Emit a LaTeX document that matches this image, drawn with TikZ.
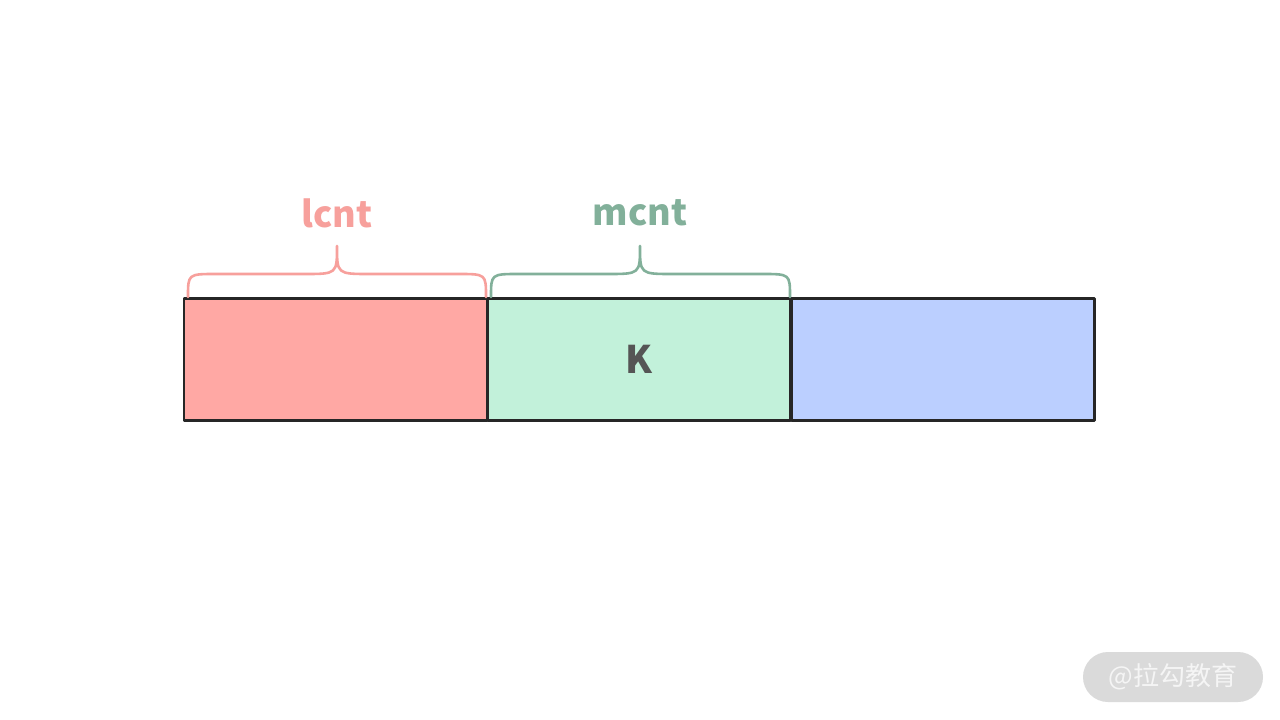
\documentclass[tikz,border=0pt]{standalone}
\usepackage{fontspec}
\setmainfont{Noto Sans CJK SC}
\definecolor{redfill}{HTML}{FFA8A4}
\definecolor{greenfill}{HTML}{C2F1DA}
\definecolor{bluefill}{HTML}{BBCFFF}
\definecolor{redline}{HTML}{F7A09C}
\definecolor{greenline}{HTML}{82B09A}
\definecolor{ktext}{HTML}{555555}
\definecolor{wmfill}{HTML}{DADADA}
\begin{document}
\begin{tikzpicture}[x=1pt,y=-1pt,
  cell/.style={draw=black!85, line width=2.4pt, minimum width=303pt, minimum height=122pt, inner sep=0pt, line join=round},
  brace/.style={line width=2.6pt, line cap=round, line join=round},
  lbl/.style={font=\fontsize{36}{40}\selectfont\bfseries, inner sep=0pt}]
\useasboundingbox (0,0) rectangle (1280,720);
\fill[white] (0,0) rectangle (1280,720);
% cells
\node[cell, fill=redfill] (L) at (335.5,359.5) {};
\node[cell, fill=greenfill] (M) at (639,359.5) {};
\node[cell, fill=bluefill] (R) at (943,359.5) {};
\node[font=\fontsize{38}{42}\selectfont\bfseries, text=ktext, inner sep=0pt] (K) at (M.center) {K};
% braces
\draw[brace, redline] (188,297) .. controls (188,274) .. (216,274) -- (304,274) .. controls (337,274) .. (337,246) .. controls (337,274) .. (370,274) -- (458,274) .. controls (486,274) .. (486,297);
\draw[brace, greenline] (491,297) .. controls (491,274) .. (519,274) -- (607,274) .. controls (640,274) .. (640,246) .. controls (640,274) .. (673,274) -- (762,274) .. controls (790,274) .. (790,297);
\node[lbl, text=redline] (lc) at (337,213) {lcnt};
\node[lbl, text=greenline] (mc) at (640,213) {mcnt};
% watermark
\node[fill=wmfill, rounded corners=25pt, minimum width=180pt, minimum height=50pt, inner sep=0pt, text=white!96!black, font=\fontsize{26}{28}\selectfont] (wm) at (1173,677) {@拉勾教育};
\end{tikzpicture}
\end{document}
